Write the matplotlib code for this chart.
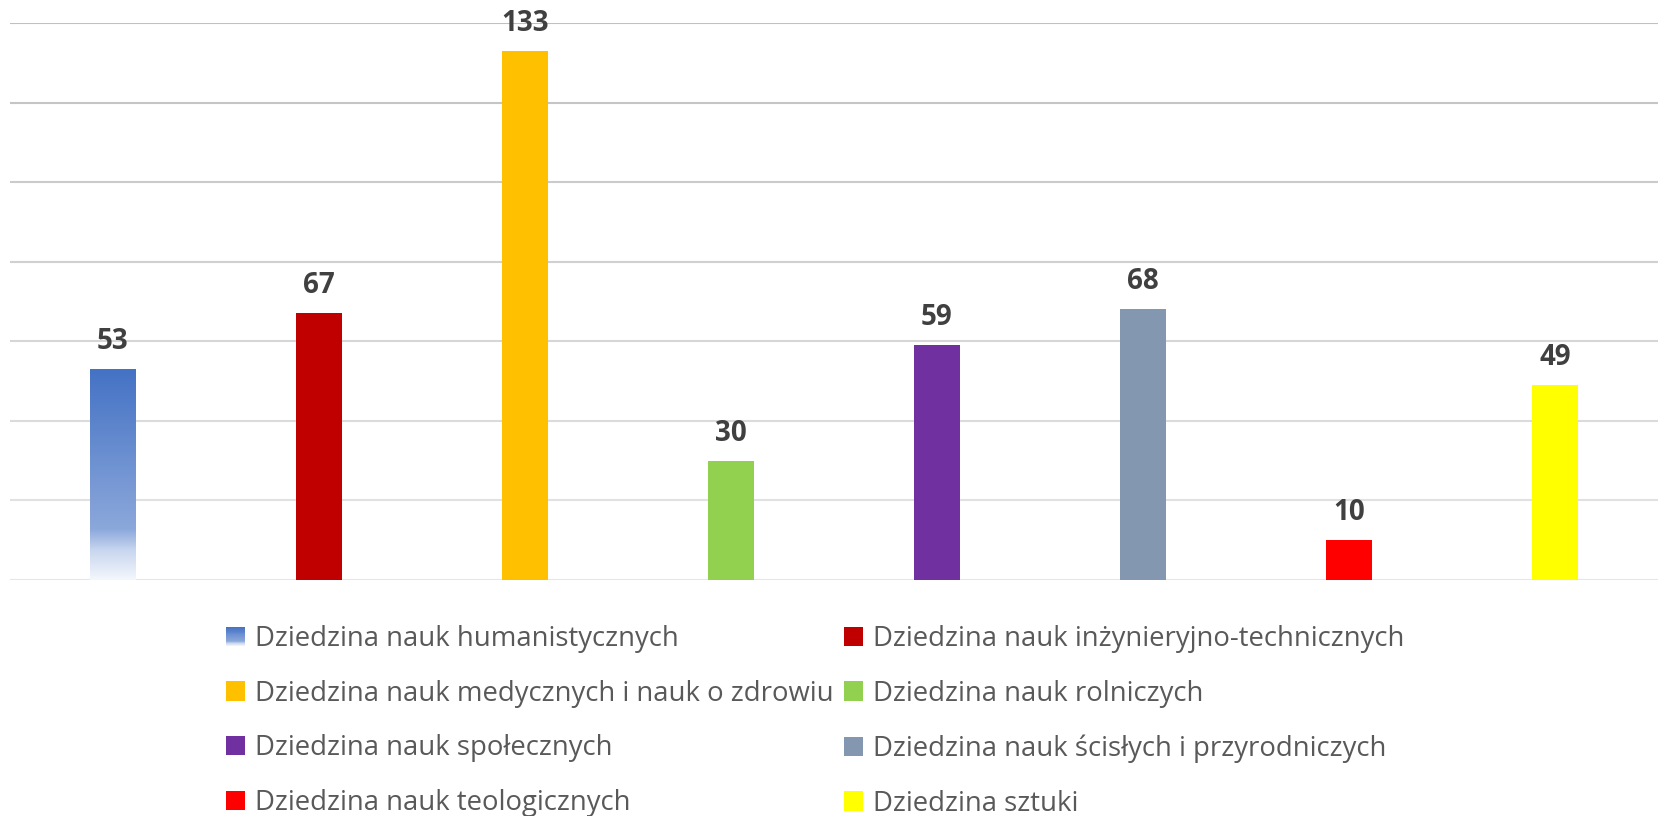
import numpy as np
import matplotlib.pyplot as plt
from matplotlib.colors import LinearSegmentedColormap, to_rgb
from matplotlib.patches import Rectangle
from matplotlib.legend_handler import HandlerBase

# data
categories = [
    "Dziedzina nauk humanistycznych",
    "Dziedzina nauk inżynieryjno-technicznych",
    "Dziedzina nauk medycznych i nauk o zdrowiu",
    "Dziedzina nauk rolniczych",
    "Dziedzina nauk społecznych",
    "Dziedzina nauk ścisłych i przyrodniczych",
    "Dziedzina nauk teologicznych",
    "Dziedzina sztuki",
]
values = [53, 67, 133, 30, 59, 68, 10, 49]
colors = ["#4472C4", "#C00000", "#FFC000", "#92D050", "#7030A0", "#8497B0", "#FF0000", "#FFFF00"]

# gradient for the first bar (top -> bottom)
grad_cmap = LinearSegmentedColormap.from_list(
    "blue_fade",
    [(0.0, "#4472C4"), (0.76, "#8CA8DB"), (0.86, "#C8D6EF"), (1.0, "#F4F7FC")],
)

plt.rcParams["font.family"] = ["Open Sans", "DejaVu Sans"]

fig = plt.figure(figsize=(16.59, 8.16), dpi=100)
ax = fig.add_axes([10 / 1659, (816 - 580) / 816, 1648 / 1659, (580 - 23) / 816])

x = np.arange(len(values))
bars = ax.bar(x, values, width=0.223, color=colors, zorder=3)

# gradient fill for the first bar
b0 = bars[0]
b0.set_facecolor("none")
bx, bw, bh = b0.get_x(), b0.get_width(), b0.get_height()
grad = np.linspace(0, 1, 256).reshape(-1, 1)
ax.imshow(grad, cmap=grad_cmap, aspect="auto", extent=(bx, bx + bw, 0, bh),
          origin="upper", zorder=3, interpolation="bilinear")
ax.set_xlim(-0.5, len(values) - 0.5)
ax.set_ylim(0, 140)

# gridlines, getting lighter towards the bottom
grid_vals = np.arange(0, 141, 20)
grid_cols = [np.array(to_rgb("#E6E6E6")) * (1 - t) + np.array(to_rgb("#C0C0C0")) * t
             for t in np.linspace(0, 1, len(grid_vals))]
for gv, gc in zip(grid_vals, grid_cols):
    ax.axhline(gv, color=gc, linewidth=1.5, zorder=1)

for s in ax.spines.values():
    s.set_visible(False)
ax.set_xticks([])
ax.set_yticks([])

for xi, v in zip(x, values):
    ax.annotate(str(v), (xi, v), xytext=(0, 14.5), textcoords="offset points",
                ha="center", va="baseline", fontsize=20, fontweight="bold", color="#404040")


class GradientHandler(HandlerBase):
    def create_artists(self, legend, orig_handle, xdescent, ydescent, width, height, fontsize, trans):
        n = 20
        arts = []
        for i in range(n):
            c = grad_cmap(1 - (i + 0.5) / n)
            arts.append(Rectangle((xdescent + 0, -ydescent + height * i / n), width, height / n + 0.01,
                                  facecolor=c, edgecolor="none", transform=trans))
        return arts


handles = [Rectangle((0, 0), 1, 1, facecolor=c, edgecolor="none") for c in colors]
order = [0, 2, 4, 6, 1, 3, 5, 7]
hmap = {handles[0]: GradientHandler()}
leg = fig.legend([handles[i] for i in order], [categories[i] for i in order],
                 ncol=2, loc="upper left", bbox_to_anchor=(226 / 1659, 1 - 625 / 816),
                 frameon=False, fontsize=19.8, labelcolor="#595959",
                 handlelength=0.7, handleheight=0.7, handletextpad=0.34,
                 columnspacing=0.4, labelspacing=0.97, borderpad=0, borderaxespad=0,
                 handler_map=hmap)

fig.savefig("out.png", dpi=100)
